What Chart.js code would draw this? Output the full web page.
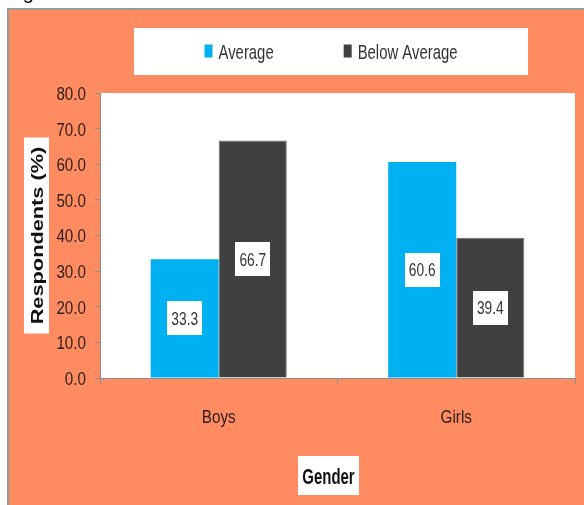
<!DOCTYPE html>
<html>
<head>
<meta charset="utf-8">
<title>Respondents by gender</title>
<script src="https://cdn.jsdelivr.net/npm/chart.js@4"></script>
<style>
  html, body { margin: 0; padding: 0; background: #fff; }
  canvas { display: block; }
</style>
</head>
<body>
<canvas id="chart" width="584" height="505"></canvas>
<script>
// chart data
const categories = ['Boys', 'Girls'];
const seriesNames = ['Average', 'Below Average'];
const averageValues = [33.3, 60.6];
const belowAverageValues = [66.7, 39.4];
const yTicks = [0, 10, 20, 30, 40, 50, 60, 70, 80];
const yTitle = 'Respondents (%)';
const xTitle = 'Gender';

const FAMILY = '"Liberation Sans", Arial, sans-serif';
const CAP = 0.716; // cap height of Liberation Sans, in em
const ORANGE = '#ff8c60';
const colors = ['#00b0f0', '#404040'];
const HIDDEN = 'rgba(0,0,0,0)';

// the source picture uses a narrow font that is stretched up and down,
// so text is drawn scaled: sx across, sy up and down
function drawText(ctx, text, x, y, o) {
  ctx.save();
  ctx.font = (o.bold ? 'bold ' : '') + o.size + 'px ' + FAMILY;
  ctx.fillStyle = o.color || '#222';
  ctx.textAlign = o.align || 'center';
  ctx.textBaseline = 'alphabetic';
  ctx.translate(x, y);
  if (o.rotate) ctx.rotate(o.rotate);
  ctx.scale(o.sx, o.sy);
  ctx.fillText(text, 0, 0);
  ctx.restore();
}
// baseline for text whose caps should be centred on cy
const midBase = (cy, o) => cy + CAP * o.size * o.sy / 2;

const yTickText = { size: 16, sx: 0.95, sy: 1.13, align: 'right', color: '#2a1e18' };
const xTickText = { size: 17, sx: 0.9, sy: 1.08, color: '#2a1e18' };
const legendText = { size: 16, sx: 0.93, sy: 1.28, align: 'left', color: '#333' };
const valueText = { size: 16, sx: 0.86, sy: 1.15, color: '#333' };
const xTitleText = { size: 18, sx: 0.83, sy: 1.25, bold: true, color: '#111' };
const yTitleText = { size: 16, sx: 1.36, sy: 1.0, bold: true, color: '#111', rotate: -Math.PI / 2 };

// page background, frame and white plot area
const backgroundPlugin = {
  id: 'background',
  beforeDraw(chart) {
    const ctx = chart.ctx;
    const a = chart.chartArea;
    ctx.save();
    ctx.fillStyle = '#fff';
    ctx.fillRect(0, 0, chart.width, chart.height);
    // caption cut off at the top of the picture
    ctx.fillStyle = '#000';
    ctx.font = '20px ' + FAMILY;
    ctx.fillText('Fig', 6, -1);
    ctx.fillStyle = '#9a9a9a';
    ctx.fillRect(7, 8, chart.width - 7, 2);
    ctx.fillRect(7, 8, 2, chart.height - 8);
    ctx.fillStyle = ORANGE;
    ctx.fillRect(9, 10, chart.width - 9, chart.height - 10);
    ctx.fillStyle = '#fff';
    ctx.fillRect(a.left, a.top, a.right - a.left, a.bottom - a.top);
    ctx.restore();
  }
};

// tick labels, placed from the library's scales
const tickLabelPlugin = {
  id: 'tickLabels',
  afterDraw(chart) {
    const ctx = chart.ctx;
    const ys = chart.scales.y, xs = chart.scales.x;
    yTicks.forEach(v => {
      const py = ys.getPixelForValue(v) + 0.5;
      drawText(ctx, v.toFixed(1), ys.right - 14, midBase(py, yTickText), yTickText);
    });
    categories.forEach((c, i) => {
      drawText(ctx, c, xs.getPixelForValue(i), 423, xTickText);
    });
  }
};

// legend in a white box above the plot
const legendBoxPlugin = {
  id: 'legendBox',
  afterDraw(chart) {
    const ctx = chart.ctx;
    const box = { x: 134, y: 28, w: 394, h: 47 };
    ctx.save();
    ctx.fillStyle = '#fff';
    ctx.fillRect(box.x, box.y, box.w, box.h);
    ctx.font = legendText.size + 'px ' + FAMILY;
    const items = chart.data.datasets.map(ds => ({
      label: ds.label, color: ds.backgroundColor,
      w: ctx.measureText(ds.label).width * legendText.sx
    }));
    ctx.restore();
    const sq = 8, gap = 6, between = 70;
    let total = 0;
    items.forEach((it, i) => { total += sq + gap + it.w + (i ? between : 0); });
    let x = box.x + box.w / 2 - total / 2;
    const cy = box.y + box.h / 2;
    items.forEach((it, i) => {
      if (i) x += between;
      ctx.fillStyle = it.color;
      ctx.fillRect(x, cy - 7, sq, 13);
      x += sq + gap;
      drawText(ctx, it.label, x, midBase(cy, legendText), legendText);
      x += it.w;
    });
  }
};

// axis titles in white boxes
const axisTitlePlugin = {
  id: 'axisTitles',
  afterDraw(chart) {
    const ctx = chart.ctx;
    const a = chart.chartArea;
    const ycx = 36.5, ycy = (a.top + a.bottom) / 2;
    ctx.fillStyle = '#fff';
    ctx.fillRect(ycx - 12.5, ycy - 98, 25, 196);
    const half = CAP * yTitleText.size / 2;
    drawText(ctx, yTitle, ycx + half + 1, ycy, yTitleText);

    const xcx = (a.left + a.right) / 2 - 9, xcy = 475.5;
    ctx.fillStyle = '#fff';
    ctx.fillRect(xcx - 30.5, xcy - 19.5, 61, 39);
    drawText(ctx, xTitle, xcx, midBase(xcy, xTitleText), xTitleText);
  }
};

// value labels in white boxes at the middle of each bar
const valueLabelPlugin = {
  id: 'valueLabels',
  afterDatasetsDraw(chart) {
    const ctx = chart.ctx;
    chart.data.datasets.forEach((ds, di) => {
      chart.getDatasetMeta(di).data.forEach((bar, i) => {
        const cx = bar.x;
        const cy = (bar.y + bar.base) / 2;
        ctx.fillStyle = '#fff';
        ctx.fillRect(Math.round(cx - 17.5), Math.round(cy - 17), 35, 34);
        drawText(ctx, ds.data[i].toFixed(1), cx, midBase(cy, valueText), valueText);
      });
    });
  }
};

new Chart(document.getElementById('chart'), {
  type: 'bar',
  data: {
    labels: categories,
    datasets: [
      {
        label: seriesNames[0],
        data: averageValues,
        backgroundColor: colors[0],
        borderWidth: 0
      },
      {
        label: seriesNames[1],
        data: belowAverageValues,
        backgroundColor: colors[1],
        borderColor: '#6a6a6a',
        borderWidth: 1
      }
    ]
  },
  options: {
    responsive: false,
    animation: false,
    devicePixelRatio: 1,
    layout: { padding: { left: 0, top: 93, right: 9, bottom: 0 } },
    datasets: {
      bar: { barPercentage: 1, categoryPercentage: 0.573 }
    },
    plugins: {
      legend: { display: false },
      tooltip: { enabled: false },
      title: { display: false }
    },
    scales: {
      x: {
        afterFit(scale) { scale.height = 127; },
        grid: {
          offset: true,
          drawOnChartArea: false,
          color: '#8c8c8c',
          tickLength: 6
        },
        border: { color: '#8c8c8c', width: 1 },
        ticks: { color: HIDDEN }
      },
      y: {
        min: 0,
        max: 80,
        afterFit(scale) { scale.width = 100; },
        afterBuildTicks(scale) { scale.ticks = yTicks.map(v => ({ value: v })); },
        grid: {
          drawOnChartArea: false,
          color: '#8c8c8c',
          tickLength: 5
        },
        border: { color: '#8c8c8c', width: 1 },
        ticks: { color: HIDDEN }
      }
    }
  },
  plugins: [backgroundPlugin, valueLabelPlugin, tickLabelPlugin, legendBoxPlugin, axisTitlePlugin]
});
</script>
</body>
</html>
